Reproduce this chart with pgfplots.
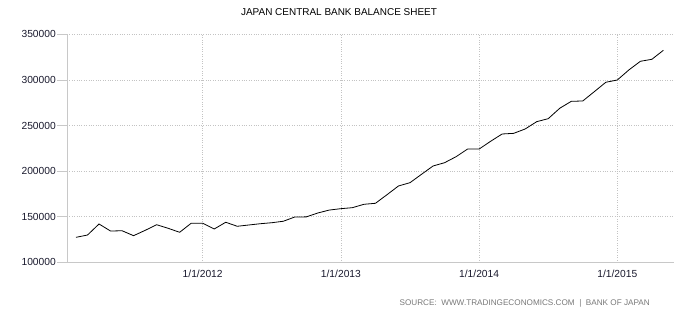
\documentclass[border=0pt]{standalone}
\usepackage{fontspec}
\setmainfont{Liberation Sans}
\usepackage{pgfplots}
\pgfplotsset{compat=1.18}
\definecolor{axgray}{RGB}{200,200,200}
\definecolor{gridgray}{RGB}{195,195,195}
\definecolor{lbl}{RGB}{25,25,45}
\definecolor{srcgray}{RGB}{120,120,120}
\begin{document}
\begin{tikzpicture}
\path[use as bounding box] (0bp,0bp) rectangle (683bp,314bp);
\begin{axis}[
  at={(67bp,51.7bp)}, anchor=south west,
  scale only axis, width=607bp, height=228bp,
  xmin=0.22, xmax=52.92, ymin=100000, ymax=350000,
  axis x line*=bottom, axis y line*=left,
  axis line style={axgray, line width=0.8bp},
  xtick={12,24,36,48},
  xticklabels={1/1/2012,1/1/2013,1/1/2014,1/1/2015},
  ytick={100000,150000,200000,250000,300000,350000},
  scaled y ticks=false,
  grid=major,
  major grid style={dotted, gridgray, line width=0.7bp},
  tick align=outside,
  major tick length=9.5bp,
  x tick style={draw=none},
  y tick style={axgray, line width=0.8bp},
  tick label style={font=\fontsize{10.3}{12}\selectfont, text=lbl, inner sep=1.5bp, /pgf/number format/assume math mode=true},
  yticklabel style={/pgf/number format/.cd, fixed, precision=0, 1000 sep={}},
  xticklabel style={yshift=3bp},
]
\addplot[black, line width=0.8bp, mark=none] coordinates {
(1,127400) (2,129900) (3,142000) (4,134300) (5,134600) (6,129200)
(7,135000) (8,141200) (9,137300) (10,132900) (11,142800) (12,142800)
(13,136500) (14,143900) (15,139500) (16,140900) (17,142300) (18,143400)
(19,145000) (20,149700) (21,149800) (22,154100) (23,157300) (24,158800)
(25,159900) (26,163600) (27,164700) (28,174100) (29,183700) (30,187300)
(31,196500) (32,205600) (33,209200) (34,215800) (35,224200) (36,224200)
(37,232700) (38,240700) (39,241400) (40,246200) (41,254200) (42,257500)
(43,268900) (44,276500) (45,276900) (46,287100) (47,297400) (48,299900)
(49,310900) (50,320400) (51,322600) (52,332500)
};
\end{axis}
\node[text=black] at (339bp,301.7bp) {\fontsize{10}{12}\selectfont JAPAN CENTRAL BANK BALANCE SHEET};
\node[anchor=east, text=srcgray, inner sep=0pt] at (650bp,10.7bp) {\fontsize{8.2}{10}\selectfont SOURCE:\ \ WWW.TRADINGECONOMICS.COM\ \ |\ \ BANK OF JAPAN};
\end{tikzpicture}
\end{document}
